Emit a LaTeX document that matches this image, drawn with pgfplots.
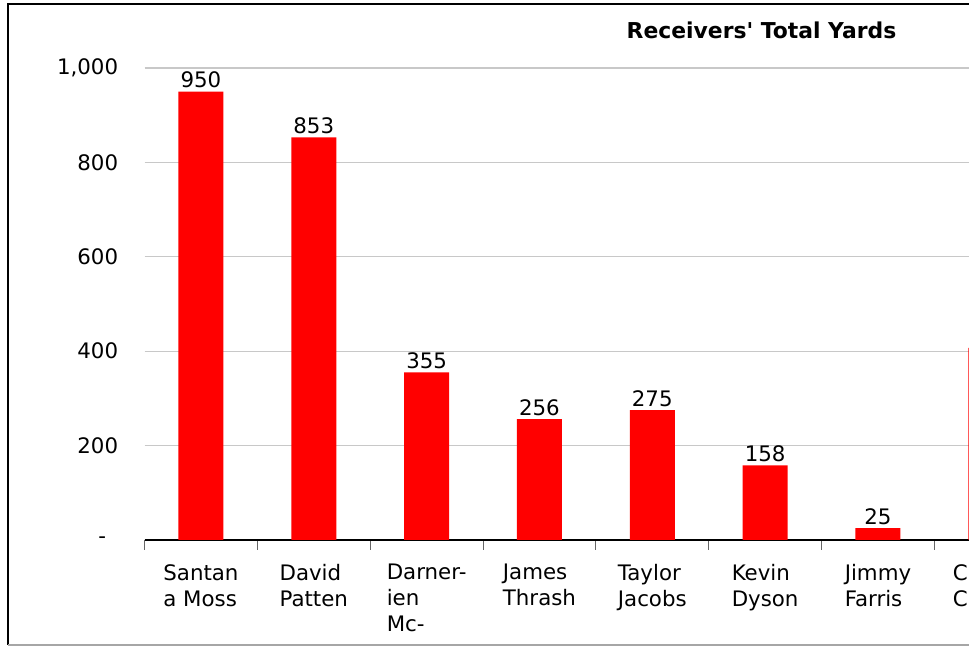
\documentclass[border=0pt]{standalone}
\usepackage{pgfplots}
\pgfplotsset{compat=1.18}
\usepackage{fontspec}
\setmainfont{DejaVu Sans}
\newfontfamily\titlefont{DejaVu Sans}[Ligatures=TeXOff]
\definecolor{barred}{RGB}{255,0,0}
\definecolor{gridgray}{RGB}{200,200,200}
\begin{document}
\begin{tikzpicture}[x=0.75pt,y=0.75pt]
    % page = 969 x 648 px, 1px = 0.75pt
    \clip (0,0) rectangle (969,648);
    \fill[white] (0,0) rectangle (969,648);
    \draw[black, line width=1.5pt] (8,3) -- (8,644) -- (975,644);
    \draw[gray!70, line width=1pt] (8,3) -- (975,3);
    \node[font=\titlefont\bfseries\fontsize{16.4}{19}\selectfont] at (761.5,618) {Receivers' Total Yards};
    \begin{axis}[
            at={(108.4pt,81pt)},
            anchor=south west,
            scale only axis,
            width=677pt,
            height=354pt,
            xmin=-0.5, xmax=7.5,
            ymin=0, ymax=1000,
            clip=false,
            axis x line*=bottom,
            axis y line*=left,
            y axis line style={draw=none},
            x axis line style={black, line width=0.8pt, -},
            ybar, bar shift=0pt, bar width=33.75pt,
            ymajorgrids,
            grid style={gridgray, line width=0.8pt},
            ytick={0,200,400,600,800,1000},
            yticklabels={{-\hspace*{9pt}},200,400,600,800,{1,000}},
            ytick style={draw=none},
            yticklabel style={font=\fontsize{16}{19.5}\selectfont, xshift=-12pt},
            xtick={0,1,2,3,4,5,6,7},
            xticklabels={{Santan\\a Moss},{David\\Patten},{Darner-\\ien\\Mc-},{James\\Thrash},{Taylor\\Jacobs},{Kevin\\Dyson},{Jimmy\\Farris},{Chris\\\makebox[57pt][l]{Chambers}}},
            xticklabel style={font=\fontsize{16}{19.5}\selectfont, align=left, yshift=-10.5pt},
            major x tick style={draw=none},
            minor xtick={-0.5,0.5,...,7.5},
            minor tick length=7.5pt,
            minor x tick style={gray!80!black, line width=0.8pt},
            tick align=outside,
            /pgf/number format/assume math mode=true,
            nodes near coords,
            every node near coord/.append style={font=\fontsize{16}{19.5}\selectfont, black, inner sep=2.5pt},
        ]
        \addplot[fill=barred, draw=none] coordinates {
            (0,950) (1,853) (2,355) (3,256) (4,275) (5,158) (6,25) (7,407)};
    \end{axis}
\end{tikzpicture}
\end{document}
